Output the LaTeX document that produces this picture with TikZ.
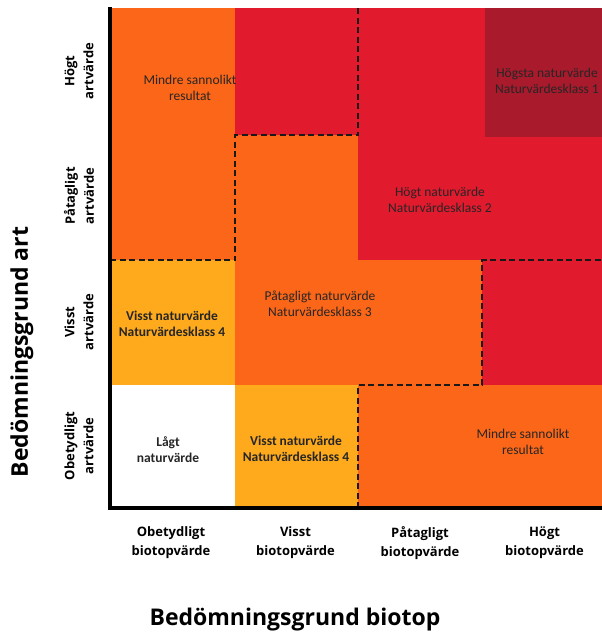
\documentclass[tikz,border=0pt]{standalone}
\usepackage{fontspec}
\setmainfont{Carlito}
\newfontfamily\labelfont{Open Sans}
\usetikzlibrary{positioning}

\definecolor{orangezone}{RGB}{252,102,24}
\definecolor{redzone}{RGB}{226,26,46}
\definecolor{darkredzone}{RGB}{168,26,44}
\definecolor{yellowzone}{RGB}{255,170,28}

\begin{document}
\begin{tikzpicture}[x=1pt,y=-1pt,node distance=124.5pt,
                    cell/.style={align=center,font=\fontsize{13.5}{16}\selectfont,text=black!85},
                    boldcell/.style={cell,font=\bfseries\fontsize{13.5}{16}\selectfont},
                    axlabel/.style={align=center,font=\labelfont\bfseries\fontsize{13}{19}\selectfont},
                    axtitle/.style={font=\labelfont\bfseries\fontsize{23}{26}\selectfont},
                    zoneline/.style={line width=2.2pt,dash pattern=on 6pt off 3.5pt,color=black!90}]
  \useasboundingbox (0,0) rectangle (602,635);
  \clip (0,0) rectangle (602,635);

  \fill[orangezone]  (110,8)   rectangle (602,508);
  \fill[redzone]     (235,8)   rectangle (602,135);
  \fill[redzone]     (358,135) rectangle (602,260);
  \fill[redzone]     (482,260) rectangle (602,385);
  \fill[darkredzone] (485,8)   rectangle (602,137);
  \fill[yellowzone]  (110,260) rectangle (235,385);
  \fill[yellowzone]  (235,385) rectangle (358,508);
  \fill[white]       (110,385) rectangle (235,508);

  \draw[zoneline] (110,260) -- (235,260) -- (235,135) -- (358,135) -- (358,8);
  \draw[zoneline] (358,508) -- (358,385) -- (482,385) -- (482,260) -- (602,260);
  \draw[line width=3.2pt] (110,7) -- (110,508) -- (602,508);

  \node[cell]     (mindre1) at (190,88)  {Mindre sannolikt\\resultat};
  \node[cell]     (klass1)  at (547,81)  {Högsta naturvärde\\Naturvärdesklass 1};
  \node[cell]     (klass2)  at (440,200) {Högt naturvärde\\Naturvärdesklass 2};
  \node[cell]     (klass3)  at (320,304) {Påtagligt naturvärde\\Naturvärdesklass 3};
  \node[boldcell] (klass4a) at (172,324) {Visst naturvärde\\Naturvärdesklass 4};
  \node[boldcell] (lagt)    at (168,450) {Lågt\\naturvärde};
  \node[boldcell] (klass4b) at (296,449) {Visst naturvärde\\Naturvärdesklass 4};
  \node[cell]     (mindre2) at (523,442) {Mindre sannolikt\\resultat};

  \node[axlabel,rotate=90] (hogtart)      at (79,71)  {Högt\\artvärde};
  \node[axlabel,rotate=90] (patagligtart) at (79,196) {Påtagligt\\artvärde};
  \node[axlabel,rotate=90] (visstart)     at (79,322) {Visst\\artvärde};
  \node[axlabel,rotate=90] (obetydligart) at (79,446) {Obetydligt\\artvärde};

  \node[axlabel] (obetydligbiotop)                          at (171,543) {Obetydligt\\biotopvärde};
  \node[axlabel] (visstbiotop)     [right of=obetydligbiotop]            {Visst\\biotopvärde};
  \node[axlabel] (patagligtbiotop) [right of=visstbiotop]                {Påtagligt\\biotopvärde};
  \node[axlabel] (hogtbiotop)      [right of=patagligtbiotop]            {Högt\\biotopvärde};

  \node[axtitle] (biotop) at (295,620) {Bedömningsgrund biotop};
  \node[axtitle,rotate=90] (art) at (22,352) {Bedömningsgrund art};
\end{tikzpicture}
\end{document}
